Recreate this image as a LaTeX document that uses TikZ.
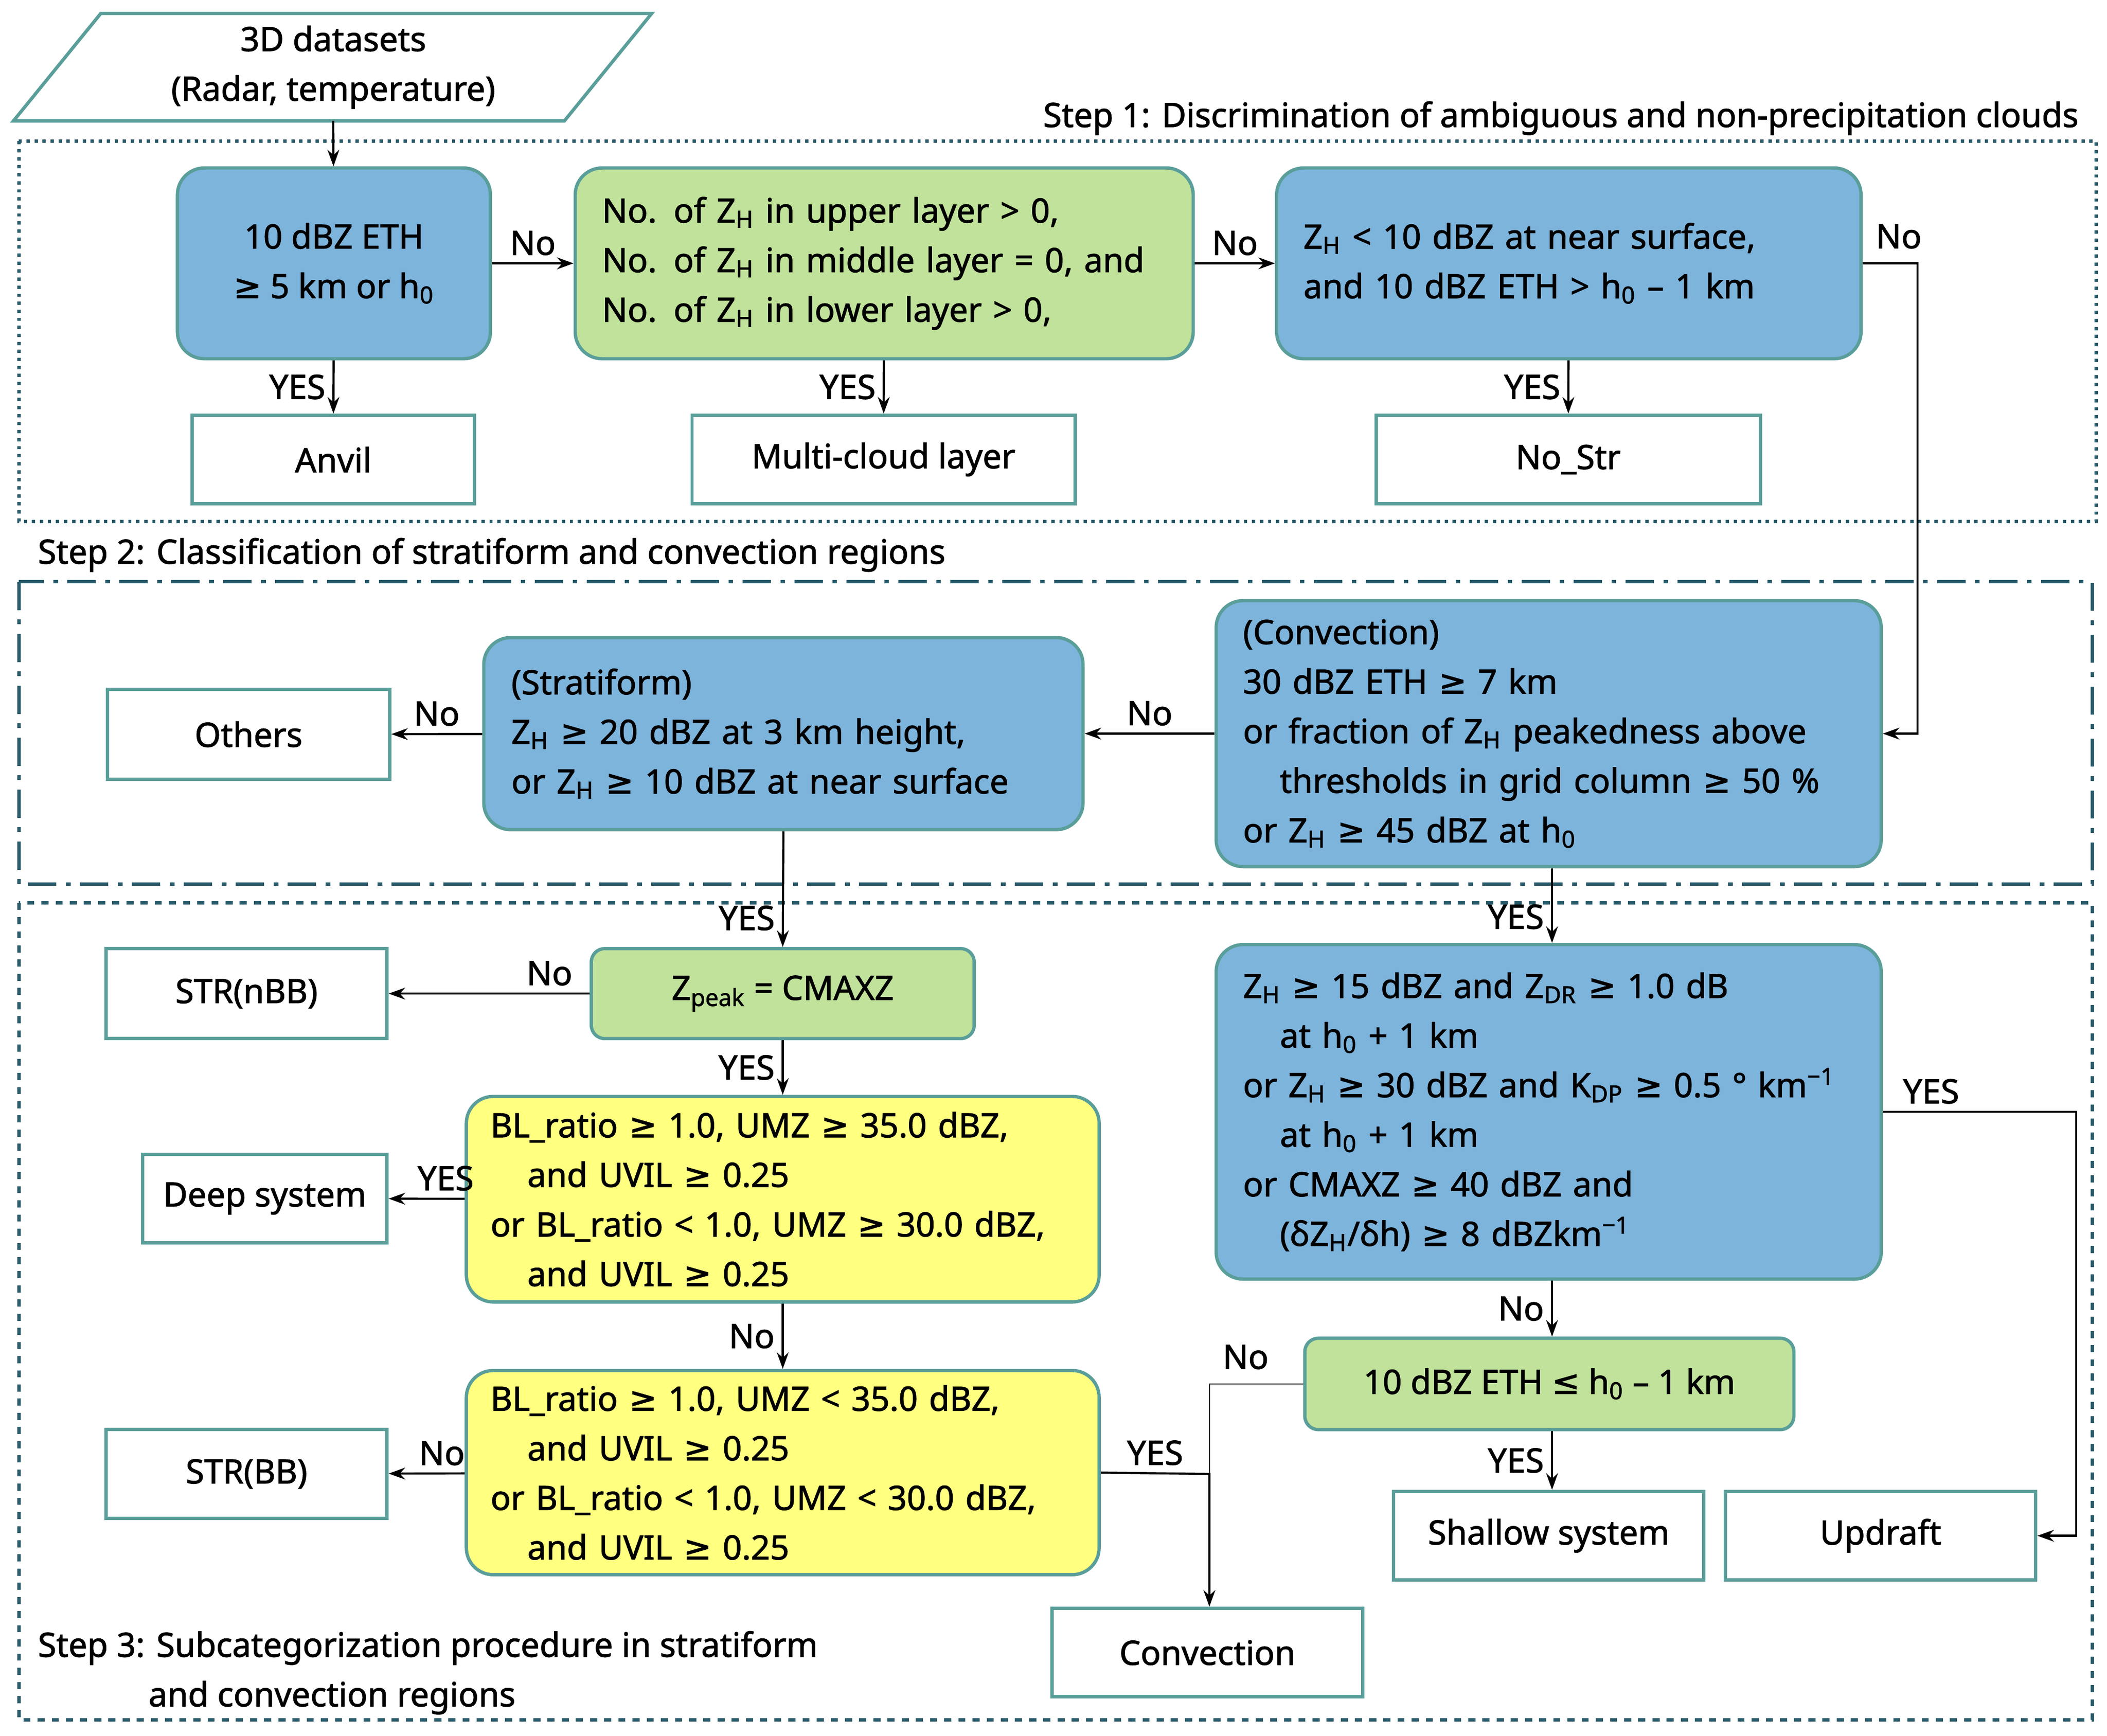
\documentclass[tikz,border=0pt]{standalone}
\usepackage{fontspec}
\setmainfont{Noto Sans}[AutoFakeBold=1.6]
\newfontfamily\symfont{DejaVu Sans}[AutoFakeBold=1.6]
\usetikzlibrary{arrows.meta}
\definecolor{boxblue}{RGB}{125,180,220}
\definecolor{boxgreen}{RGB}{192,226,154}
\definecolor{boxyellow}{RGB}{255,255,128}
\definecolor{edgeteal}{RGB}{90,158,154}
\definecolor{frameteal}{RGB}{40,90,105}
\newcommand{\ZH}{Z\textsubscript{H}}
\newcommand{\hz}{h\textsubscript{0}}
\newcommand{\ind}{\hspace*{1.1em}}
\newcommand{\gee}{{\symfont ≥}}
\newcommand{\lee}{{\symfont ≤}}
\tikzset{
  every node/.style={font=\fontsize{14.2}{21}\selectfont\bfseries},
  box/.style={draw=edgeteal,line width=1.4pt,rounded corners=0.4cm,inner sep=0pt},
  bluebox/.style={box,fill=boxblue},
  greenbox/.style={box,fill=boxgreen},
  yellowbox/.style={box,fill=boxyellow},
  result/.style={draw=edgeteal,line width=1.4pt,fill=white,inner sep=0pt},
  flow/.style={-{Stealth[length=7pt,width=5pt]},line width=0.9pt},
  tag/.style={inner sep=3pt},
  stepframe/.style={draw=frameteal,line width=1.4pt}
}
\begin{document}
\begin{tikzpicture}[x=0.02cm,y=-0.02cm]
\useasboundingbox (0,0) rectangle (1568,1292);
% frames
\draw [stepframe,dotted] (14,105) rectangle (1560,388);
\draw [stepframe,dash pattern=on 12pt off 4pt on 2pt off 4pt] (14,433) rectangle (1557,658);
\draw [stepframe,dashed] (14,672) rectangle (1557,1280);
\node [anchor=east] at (1553,88) {Step 1: Discrimination of ambiguous and non-precipitation clouds};
\node [anchor=west] at (22,413) {Step 2: Classification of stratiform and convection regions};
\node [anchor=west,align=left] at (22,1245) {Step 3: Subcategorization procedure in stratiform\\\ind\ind\ind and convection regions};

% input
\draw [draw=edgeteal,line width=1.4pt] (75,10) -- (485,10) -- (420,90) -- (10,90) -- cycle;
\node (data) at (248,50) [align=center] {3D datasets\\(Radar, temperature)};
\coordinate (din) at (248,90);

% step 1
\node (eth) at (248.5,196) [bluebox,minimum width=4.66cm,minimum height=2.84cm,align=center] {10 dBZ ETH\\\gee{} 5 km or \hz};
\node (multi) at (658,196) [greenbox,minimum width=9.2cm,minimum height=2.84cm,text width=8.4cm,align=left] {No. of \ZH{} in upper layer > 0,\\No. of \ZH{} in middle layer = 0, and\\No. of \ZH{} in lower layer > 0,};
\node (surf) at (1167.5,196) [bluebox,minimum width=8.7cm,minimum height=2.84cm,text width=7.9cm,align=left] {\ZH{} < 10 dBZ at near surface,\\and 10 dBZ ETH > \hz{} – 1 km};
\node (anvil) at (248,342) [result,minimum width=4.2cm,minimum height=1.32cm] {Anvil};
\node (mcl) at (657.5,342) [result,minimum width=5.7cm,minimum height=1.32cm] {Multi-cloud layer};
\node (nostr) at (1167,342) [result,minimum width=5.72cm,minimum height=1.32cm] {No\_Str};

% step 2
\node (conv) at (1152.5,546) [bluebox,minimum width=9.9cm,minimum height=3.96cm,text width=9.1cm,align=left] {(Convection)\\30 dBZ ETH \gee{} 7 km\\or fraction of \ZH{} peakedness above\\\ind thresholds in grid column \gee{} 50 \%\\or \ZH{} \gee{} 45 dBZ at \hz};
\node (strat) at (583,546) [bluebox,minimum width=8.92cm,minimum height=2.86cm,text width=8.1cm,align=left] {(Stratiform)\\\ZH{} \gee{} 20 dBZ at 3 km height,\\or \ZH{} \gee{} 10 dBZ at near surface};
\node (others) at (185,546.5) [result,minimum width=4.2cm,minimum height=1.34cm] {Others};

% step 3
\node (zpeak) at (582.5,739.5) [greenbox,rounded corners=0.2cm,minimum width=5.7cm,minimum height=1.34cm] {Z\textsubscript{peak} = CMAXZ};
\node (nbb) at (183.5,739.5) [result,minimum width=4.18cm,minimum height=1.34cm] {STR(nBB)};
\node (deepq) at (582.5,892.5) [yellowbox,minimum width=9.42cm,minimum height=3.06cm,text width=8.7cm,align=left] {BL\_ratio \gee{} 1.0, UMZ \gee{} 35.0 dBZ,\\\ind and UVIL \gee{} 0.25\\or BL\_ratio < 1.0, UMZ \gee{} 30.0 dBZ,\\\ind and UVIL \gee{} 0.25};
\node (deep) at (197,892) [result,minimum width=3.64cm,minimum height=1.32cm] {Deep system};
\node (bbq) at (582.5,1096) [yellowbox,minimum width=9.42cm,minimum height=3.04cm,text width=8.7cm,align=left] {BL\_ratio \gee{} 1.0, UMZ < 35.0 dBZ,\\\ind and UVIL \gee{} 0.25\\or BL\_ratio < 1.0, UMZ < 30.0 dBZ,\\\ind and UVIL \gee{} 0.25};
\node (bb) at (183.5,1097) [result,minimum width=4.18cm,minimum height=1.32cm] {STR(BB)};
\node (updq) at (1152.5,827.5) [bluebox,minimum width=9.9cm,minimum height=4.98cm,text width=9.1cm,align=left] {\ZH{} \gee{} 15 dBZ and Z\textsubscript{DR} \gee{} 1.0 dB\\\ind at \hz{} + 1 km\\or \ZH{} \gee{} 30 dBZ and K\textsubscript{DP} \gee{} 0.5 ° km\textsuperscript{−1}\\\ind at \hz{} + 1 km\\or CMAXZ \gee{} 40 dBZ and\\\ind (δ\ZH/δh) \gee{} 8 dBZkm\textsuperscript{−1}};
\node (shq) at (1153,1030) [greenbox,rounded corners=0.2cm,minimum width=7.28cm,minimum height=1.36cm] {10 dBZ ETH \lee{} \hz{} – 1 km};
\node (shallow) at (1152.5,1143) [result,minimum width=4.62cm,minimum height=1.32cm] {Shallow system};
\node (updraft) at (1399.5,1143) [result,minimum width=4.62cm,minimum height=1.32cm] {Updraft};
\node (cv) at (898.5,1230) [result,minimum width=4.62cm,minimum height=1.32cm] {Convection};
\coordinate (j1) at (1427,196);
\coordinate (j2) at (1545,827.5);
\coordinate (j3) at (900,1097);

% connectors
\draw [flow] (din) -- (eth);
\draw [flow] (eth) -- node [tag,above] {No} (multi);
\draw [flow] (multi) -- node [tag,above] {No} (surf);
\draw [flow] (surf.east) -- (j1) |- (conv.east);
\node at (1413,176) {No};
\draw [flow] (eth) -- node [tag,left,pos=0.5] {YES} (anvil);
\draw [flow] (multi) -- node [tag,left,pos=0.5] {YES} (mcl);
\draw [flow] (surf) -- node [tag,left,pos=0.5] {YES} (nostr);
\draw [flow] (conv) -- node [tag,above] {No} (strat);
\draw [flow] (strat) -- node [tag,above] {No} (others);
\draw [flow] (strat.south) -- node [tag,left,pos=0.75] {YES} (zpeak.north);
\draw [flow] (conv.south -| 1155,0) -- node [tag,left,pos=0.65] {YES} (updq.north -| 1155,0);
\draw [flow] (zpeak) -- node [tag,above,pos=0.2] {No} (nbb);
\draw [flow] (zpeak) -- node [tag,left,pos=0.5] {YES} (deepq);
\draw [flow] (deepq) -- node [tag,above,pos=0.25] {YES} (deep);
\draw [flow] (deepq) -- node [tag,left,pos=0.5] {No} (bbq);
\draw [flow] (bbq) -- node [tag,above,pos=0.3] {No} (bb);
\draw [flow] (bbq.east) -- node [tag,above] {YES} (j3) -- (cv.north -| j3);
\draw (shq.west) -| (j3);
\node at (927,1010) {No};
\draw [flow] (updq.south -| 1155,0) -- node [tag,left,pos=0.5] {No} (shq.north -| 1155,0);
\draw [flow] (shq.south -| 1155,0) -- node [tag,left,pos=0.5] {YES} (shallow.north -| 1155,0);
\draw [flow] (updq.east) -- node [tag,above,pos=0.25] {YES} (j2) |- (updraft.east);
\end{tikzpicture}
\end{document}
